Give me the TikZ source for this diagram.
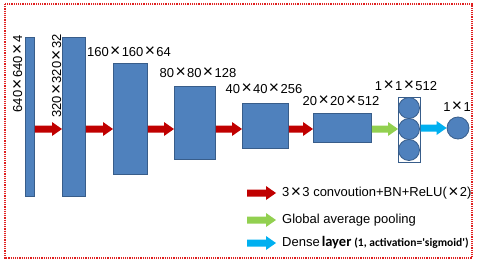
\documentclass[tikz,border=0pt]{standalone}
\usepackage{fontspec}
\usepackage{graphicx}
\setmainfont{Liberation Sans}
\newfontfamily\carlito{Carlito}
\usetikzlibrary{calc}
\definecolor{boxblue}{HTML}{4F81BD}
\definecolor{boxedge}{HTML}{385D8A}
\definecolor{convred}{HTML}{C00000}
\definecolor{poolgreen}{HTML}{92D050}
\definecolor{denseblue}{HTML}{00B0F0}
\definecolor{framered}{HTML}{E02020}
\newcommand\tms{\makebox[1em][c]{\raisebox{-0.05em}{\scalebox{1.35}{×}}}}
\newcommand\blockarrow[3]{\path let \p1=(#2), \p2=(#3) in [fill=#1]
  (\x1,\y1+3.5pt) -- (\x2-10pt,\y1+3.5pt) -- (\x2-10pt,\y1+7pt) -- (\x2,\y1)
  -- (\x2-10pt,\y1-7pt) -- (\x2-10pt,\y1-3.5pt) -- (\x1,\y1-3.5pt) -- cycle;}
\begin{document}
\begin{tikzpicture}[x=1pt,y=-1pt,
  every node/.style={font=\fontsize{13}{15}\selectfont},
  layerbox/.style={draw=boxedge,fill=boxblue,line width=0.8pt,inner sep=0pt,anchor=north west},
  neuron/.style={circle,draw=boxedge,fill=boxblue,line width=0.8pt,inner sep=0pt,minimum size=21pt},
  lbl/.style={inner sep=0pt},
  legtext/.style={inner sep=0pt,anchor=west}]
\useasboundingbox (0,0) rectangle (480,265);
\draw[framered,line width=1.2pt,dash pattern=on 1.2pt off 1pt] (5,4) rectangle (472,258);
% layers
\node[layerbox,minimum width=9pt,minimum height=159pt] (b1) at (25,37) {};
\node[layerbox,minimum width=23pt,minimum height=159pt] (b2) at (62,37) {};
\node[layerbox,minimum width=34pt,minimum height=111pt] (b3) at (113,63) {};
\node[layerbox,minimum width=41pt,minimum height=73pt] (b4) at (174,86) {};
\node[layerbox,minimum width=46pt,minimum height=45pt] (b5) at (242,103) {};
\node[layerbox,minimum width=58pt,minimum height=29pt] (b6) at (313,113) {};
\node[draw=boxedge,line width=0.6pt,inner sep=0pt,minimum width=22pt,minimum height=65pt,anchor=north west] (col) at (398,97) {};
\node[neuron] (n1) at (409,108) {};
\node[neuron] (n2) at (409,129) {};
\node[neuron] (n3) at (409,150) {};
\node[neuron,minimum size=22pt] (out) at (458,128) {};
\coordinate (ax) at (0,129);
\coordinate (axo) at (0,128);
% arrows
\blockarrow{convred}{b1.east |- ax}{b2.west |- ax}
\blockarrow{convred}{b2.east |- ax}{b3.west |- ax}
\blockarrow{convred}{b3.east |- ax}{b4.west |- ax}
\blockarrow{convred}{b4.east |- ax}{b5.west |- ax}
\blockarrow{convred}{b5.east |- ax}{b6.west |- ax}
\blockarrow{poolgreen}{b6.east |- ax}{col.west |- ax}
\blockarrow{denseblue}{col.east |- axo}{out.west}
% labels
\node[lbl,rotate=90] (l1) at (18,74) {640\tms640\tms4};
\node[lbl,rotate=90] (l2) at (57,76) {320\tms320\tms32};
\node[lbl] (l3) at (129,52) {160\tms160\tms64};
\node[lbl] (l4) at (198,73) {80\tms80\tms128};
\node[lbl] (l5) at (264,89) {40\tms40\tms256};
\node[lbl] (l6) at (341,101) {20\tms20\tms512};
\node[lbl] (l7) at (406,86) {1\tms1\tms512};
\node[lbl] (l8) at (457,107) {1\tms1};
% legend
\coordinate (ra) at (247,193); \coordinate (rb) at (276,193);
\coordinate (ga) at (247,220); \coordinate (gb) at (276,220);
\coordinate (ba) at (247,243); \coordinate (bb) at (276,243);
\blockarrow{convred}{ra}{rb}
\blockarrow{poolgreen}{ga}{gb}
\blockarrow{denseblue}{ba}{bb}
\node[legtext] (t1) at (282,193) {3\tms3 convoution+BN+ReLU(\tms2)};
\node[legtext] (t2) at (282,220) {Global average pooling};
\node[legtext] (t3) at (282,243) {Dense\hspace{2pt}{\carlito\bfseries\fontsize{14.5}{16}\selectfont layer}\hspace{3pt}{\carlito\bfseries\fontsize{11.5}{13}\selectfont (1, activation='sigmoid')}};
\end{tikzpicture}
\end{document}
